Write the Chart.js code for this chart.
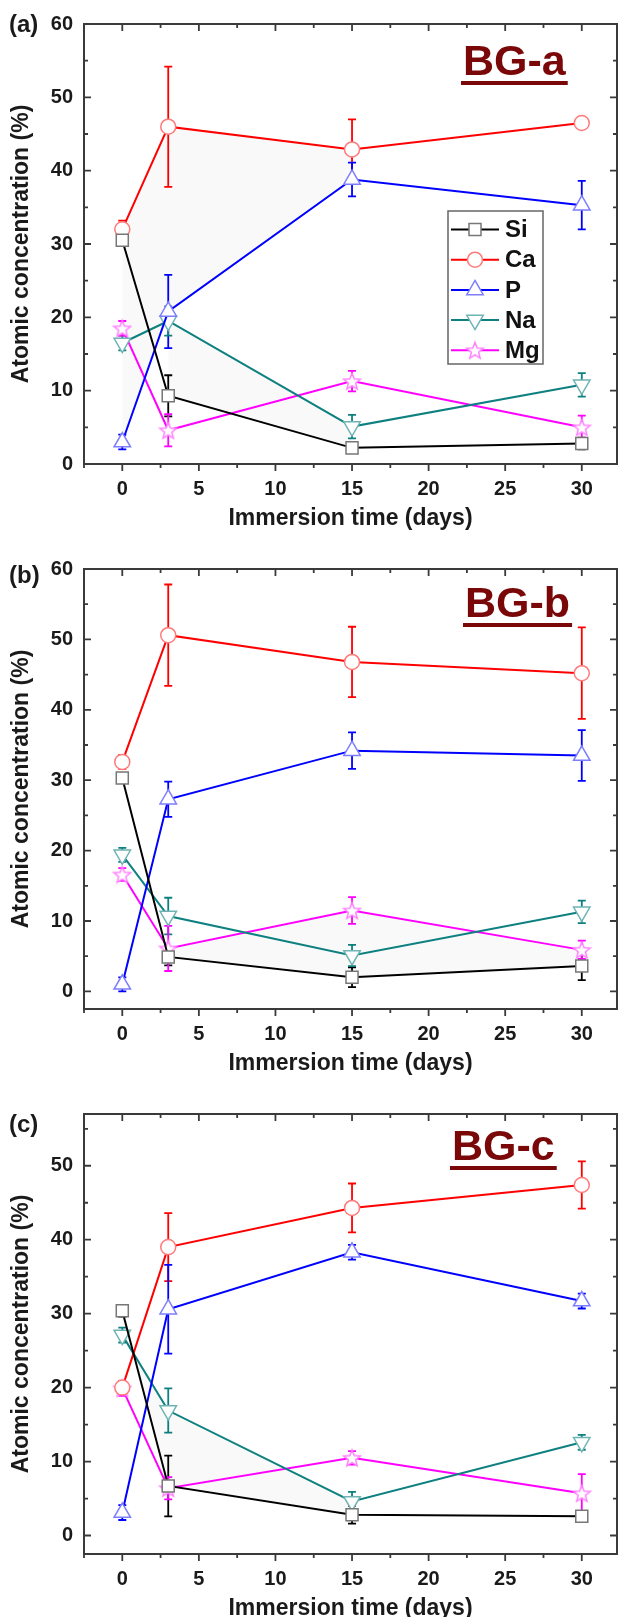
<!DOCTYPE html>
<html>
<head>
<meta charset="utf-8">
<title>Atomic concentration vs immersion time</title>
<script src="https://cdn.jsdelivr.net/npm/chart.js@4.4.1/dist/chart.umd.min.js"></script>
<style>
  html, body { margin: 0; padding: 0; background: #fff; overflow: hidden; }
  .panel { position: absolute; left: 0; width: 628px; height: 540px; }
</style>
</head>
<body>
<div class="panel" style="top:0px"><canvas id="chartA" width="628" height="540"></canvas></div>
<div class="panel" style="top:545px"><canvas id="chartB" width="628" height="540"></canvas></div>
<div class="panel" style="top:1090px"><canvas id="chartC" width="628" height="540"></canvas></div>
<script>
// immersion times and element names
const days = [0, 3, 15, 30];
const elements = ['Si', 'Ca', 'P', 'Na', 'Mg'];
const xTicks = [0, 5, 10, 15, 20, 25, 30];
const yTicks = [0, 10, 20, 30, 40, 50, 60];

// BG-a
const siA = [30.5, 9.3, 2.2, 2.8];
const siErrA = [0.7, 2.8, 0.5, 0.8];
const caA = [32.0, 46.0, 42.9, 46.5];
const caErrA = [1.2, 8.2, 4.1, 0.5];
const pA = [3.0, 20.8, 38.8, 35.3];
const pErrA = [1.0, 5.0, 2.3, 3.3];
const naA = [16.5, 19.5, 5.1, 10.8];
const naErrA = [1.0, 2.0, 1.6, 1.6];
const mgA = [18.5, 4.6, 11.3, 5.0];
const mgErrA = [1.0, 2.2, 1.4, 1.6];

// BG-b
const siB = [30.3, 4.9, 2.0, 3.6];
const siErrB = [0.7, 1.2, 1.4, 2.0];
const caB = [32.6, 50.6, 46.8, 45.2];
const caErrB = [1.0, 7.2, 5.0, 6.5];
const pB = [1.0, 27.3, 34.2, 33.5];
const pErrB = [1.0, 2.5, 2.6, 3.6];
const naB = [19.4, 10.7, 5.1, 11.3];
const naErrB = [1.0, 2.6, 1.5, 1.6];
const mgB = [16.6, 6.1, 11.5, 5.9];
const mgErrB = [0.9, 3.2, 1.9, 1.3];

// BG-c
const siC = [30.4, 6.7, 2.8, 2.6];
const siErrC = [0.8, 4.1, 1.2, 0.5];
const caC = [20.0, 39.0, 44.3, 47.4];
const caErrC = [0.7, 4.6, 3.3, 3.2];
const pC = [3.1, 30.6, 38.3, 31.7];
const pErrC = [1.0, 6.0, 1.0, 1.0];
const naC = [27.1, 16.9, 4.6, 12.6];
const naErrC = [1.0, 3.0, 1.3, 1.0];
const mgC = [19.9, 6.4, 10.5, 5.7];
const mgErrC = [1.0, 1.5, 0.9, 2.6];

const FONT = "'Liberation Sans', Arial, sans-serif";
Chart.defaults.font.family = FONT;

// line / marker look per element (same order as elements)
const seriesStyle = [
    { color: '#000000', marker: 'rect', edge: '#777777', radius: 8.5, rotation: 0 },
    { color: '#ff0000', marker: 'circle', edge: '#ff7a7a', radius: 7.5, rotation: 0 },
    { color: '#0000ff', marker: 'triangle', edge: '#7d7dff', radius: 9.5, rotation: 0 },
    { color: '#0f8080', marker: 'triangle', edge: '#6fb3b3', radius: 9.5, rotation: 180 },
    { color: '#ff00ff', marker: 'star', edge: '#ff80ff', radius: 9, rotation: 0 }
];

function starImage(stroke) {
    const c = document.createElement('canvas');
    c.width = 20;
    c.height = 20;
    const g = c.getContext('2d');
    g.beginPath();
    for (let k = 0; k < 10; k++) {
        const r = k % 2 ? 3.8 : 8.8;
        const a = -Math.PI / 2 + k * Math.PI / 5;
        const px = 10 + r * Math.cos(a);
        const py = 10.8 + r * Math.sin(a);
        if (k === 0) g.moveTo(px, py); else g.lineTo(px, py);
    }
    g.closePath();
    g.fillStyle = '#fff';
    g.fill();
    g.strokeStyle = stroke;
    g.lineWidth = 1.5;
    g.stroke();
    return c;
}
const starMarker = starImage(seriesStyle[4].edge);

function points(xs, ys) {
    return xs.map((d, i) => ({ x: d, y: ys[i] }));
}

function drawMarker(ctx, st, x, y) {
    ctx.save();
    ctx.fillStyle = '#fff';
    ctx.strokeStyle = st.edge;
    ctx.lineWidth = 1.5;
    ctx.beginPath();
    if (st.marker === 'rect') {
        const s = st.radius * Math.SQRT1_2;
        ctx.rect(x - s, y - s, 2 * s, 2 * s);
    } else if (st.marker === 'circle') {
        ctx.arc(x, y, st.radius, 0, Math.PI * 2);
    } else if (st.marker === 'triangle') {
        const r = st.radius;
        const sign = st.rotation === 180 ? -1 : 1;
        ctx.moveTo(x, y - sign * r);
        ctx.lineTo(x + r * 0.866, y + sign * r / 2);
        ctx.lineTo(x - r * 0.866, y + sign * r / 2);
        ctx.closePath();
    } else {
        ctx.restore();
        ctx.drawImage(starMarker, x - 10, y - 10);
        return;
    }
    ctx.fill();
    ctx.stroke();
    ctx.restore();
}

// error bars under the markers
const errorBarPlugin = {
    id: 'errorBars',
    beforeDatasetsDraw(chart) {
        const { ctx, scales: { x, y } } = chart;
        chart.data.datasets.forEach(ds => {
            if (!ds.errors) return;
            ctx.save();
            ctx.strokeStyle = ds.borderColor;
            ctx.lineWidth = 1.8;
            ctx.beginPath();
            ds.data.forEach((pt, k) => {
                const px = x.getPixelForValue(pt.x);
                const top = y.getPixelForValue(pt.y + ds.errors[k]);
                const bot = y.getPixelForValue(pt.y - ds.errors[k]);
                ctx.moveTo(px, top); ctx.lineTo(px, bot);
                ctx.moveTo(px - 4, top); ctx.lineTo(px + 4, top);
                ctx.moveTo(px - 4, bot); ctx.lineTo(px + 4, bot);
            });
            ctx.stroke();
            ctx.restore();
        });
    }
};

// box frame with ticks (inward on top/left/right, outward at bottom)
const framePlugin = {
    id: 'frame',
    afterDatasetsDraw(chart) {
        const { ctx, chartArea: a, scales: { x, y } } = chart;
        ctx.save();
        ctx.strokeStyle = '#3a3a3a';
        ctx.lineWidth = 2;
        ctx.strokeRect(a.left, a.top, a.right - a.left, a.bottom - a.top);
        ctx.lineWidth = 1.8;
        ctx.beginPath();
        for (let v = Math.ceil(x.min / 2.5) * 2.5; v <= x.max; v += 2.5) {
            const px = x.getPixelForValue(v);
            const len = v % 5 === 0 ? 7 : 4;
            ctx.moveTo(px, a.top); ctx.lineTo(px, a.top + len);
            ctx.moveTo(px, a.bottom); ctx.lineTo(px, a.bottom + len);
        }
        for (let v = Math.ceil(y.min / 5) * 5; v <= y.max; v += 5) {
            const py = y.getPixelForValue(v);
            const len = v % 10 === 0 ? 7 : 4;
            ctx.moveTo(a.left, py); ctx.lineTo(a.left + len, py);
            ctx.moveTo(a.right, py); ctx.lineTo(a.right - len, py);
        }
        ctx.stroke();
        ctx.restore();
    }
};

// panel letter, sample name and legend
const decorPlugin = {
    id: 'decor',
    afterDraw(chart, args, opts) {
        const ctx = chart.ctx;
        ctx.save();
        ctx.fillStyle = '#1a1a1a';
        ctx.font = 'bold 24px ' + FONT;
        ctx.textAlign = 'left';
        ctx.textBaseline = 'middle';
        ctx.fillText(opts.letter, 9, opts.letterY);

        ctx.fillStyle = '#7a0808';
        ctx.font = 'bold 43px ' + FONT;
        ctx.textBaseline = 'alphabetic';
        ctx.fillText(opts.tag, opts.tagX, opts.tagY);
        const w = ctx.measureText(opts.tag).width;
        ctx.fillRect(opts.tagX - 2, opts.tagY + 6, w + 4, 4);

        if (opts.legend) {
            const lx = 448, ly = 211, lw = 95, lh = 153;
            ctx.fillStyle = '#fff';
            ctx.fillRect(lx, ly, lw, lh);
            ctx.strokeStyle = '#666';
            ctx.lineWidth = 1.5;
            ctx.strokeRect(lx, ly, lw, lh);
            elements.forEach((name, i) => {
                const st = seriesStyle[i];
                const cy = ly + 18.5 + i * 30.2;
                ctx.strokeStyle = st.color;
                ctx.lineWidth = 2;
                ctx.beginPath();
                ctx.moveTo(lx + 3, cy);
                ctx.lineTo(lx + 51, cy);
                ctx.stroke();
                drawMarker(ctx, st, lx + 27, cy);
                ctx.fillStyle = '#111';
                ctx.font = 'bold 24px ' + FONT;
                ctx.textBaseline = 'middle';
                ctx.fillText(name, lx + 57, cy + 1);
            });
        }
        ctx.restore();
    }
};

function buildPanel(canvasId, spec) {
    const values = [spec.si, spec.ca, spec.p, spec.na, spec.mg];
    const errors = [spec.siErr, spec.caErr, spec.pErr, spec.naErr, spec.mgErr];
    const datasets = elements.map((name, i) => {
        const st = seriesStyle[i];
        return {
            label: name,
            data: points(days, values[i]),
            errors: errors[i],
            borderColor: st.color,
            borderWidth: 2,
            pointStyle: st.marker === 'star' ? starMarker : st.marker,
            pointRotation: st.rotation,
            pointRadius: st.radius,
            pointBackgroundColor: '#fff',
            pointBorderColor: st.edge,
            pointBorderWidth: 1.5,
            tension: 0,
            fill: false
        };
    });
    // shaded areas between two curves, drawn beneath everything
    spec.fills.forEach(f => {
        const xs = days.slice(f.from, f.to + 1);
        datasets.push({
            label: 'fill',
            data: points(xs, values[f.upper].slice(f.from, f.to + 1)),
            borderWidth: 0,
            borderColor: 'rgba(0,0,0,0)',
            pointRadius: 0,
            backgroundColor: 'rgba(0,0,0,0.022)',
            fill: '+1'
        });
        datasets.push({
            label: 'fillBase',
            data: points(xs, values[f.lower].slice(f.from, f.to + 1)),
            borderWidth: 0,
            borderColor: 'rgba(0,0,0,0)',
            backgroundColor: 'rgba(0,0,0,0)',
            pointRadius: 0,
            fill: false
        });
    });

    const tickFont = { family: FONT, size: 20, weight: 'bold' };
    const titleFont = { family: FONT, size: 23, weight: 'bold' };

    return new Chart(document.getElementById(canvasId), {
        type: 'line',
        data: { datasets },
        options: {
            responsive: false,
            animation: false,
            events: [],
            layout: { padding: { top: 24, left: 0, right: 0, bottom: 0 } },
            plugins: {
                legend: { display: false },
                tooltip: { enabled: false },
                decor: spec.decor
            },
            scales: {
                x: {
                    type: 'linear',
                    min: -2.5,
                    max: 32.3,
                    afterBuildTicks: s => { s.ticks = xTicks.map(v => ({ value: v })); },
                    afterFit: s => { s.height = 76; },
                    grid: { display: false, drawTicks: false },
                    border: { display: false },
                    ticks: { font: tickFont, color: '#1a1a1a', padding: 13, maxRotation: 0, autoSkip: false },
                    title: { display: true, text: 'Immersion time (days)', font: titleFont, color: '#1a1a1a', padding: { top: 0, bottom: 8 } }
                },
                y: {
                    type: 'linear',
                    min: spec.yMin,
                    max: spec.yMax,
                    afterBuildTicks: s => { s.ticks = yTicks.filter(v => v <= spec.yMax).map(v => ({ value: v })); },
                    afterFit: s => { s.width = 84; },
                    grid: { display: false, drawTicks: false },
                    border: { display: false },
                    ticks: { font: tickFont, color: '#1a1a1a', padding: 11, autoSkip: false },
                    title: { display: true, text: 'Atomic concentration (%)', font: titleFont, color: '#1a1a1a', padding: { top: 8, bottom: 0 } }
                }
            }
        },
        plugins: [errorBarPlugin, framePlugin, decorPlugin]
    });
}

buildPanel('chartA', {
    si: siA, siErr: siErrA, ca: caA, caErr: caErrA, p: pA, pErr: pErrA,
    na: naA, naErr: naErrA, mg: mgA, mgErr: mgErrA,
    yMin: 0, yMax: 60,
    fills: [{ upper: 1, lower: 2, from: 0, to: 2 }, { upper: 3, lower: 0, from: 1, to: 2 }],
    decor: { letter: '(a)', letterY: 25, tag: 'BG-a', tagX: 463, tagY: 75, legend: true }
});

buildPanel('chartB', {
    si: siB, siErr: siErrB, ca: caB, caErr: caErrB, p: pB, pErr: pErrB,
    na: naB, naErr: naErrB, mg: mgB, mgErr: mgErrB,
    yMin: -2.5, yMax: 60,
    fills: [{ upper: 4, lower: 0, from: 1, to: 3 }],
    decor: { letter: '(b)', letterY: 31, tag: 'BG-b', tagX: 465, tagY: 72, legend: false }
});

buildPanel('chartC', {
    si: siC, siErr: siErrC, ca: caC, caErr: caErrC, p: pC, pErr: pErrC,
    na: naC, naErr: naErrC, mg: mgC, mgErr: mgErrC,
    yMin: -2.5, yMax: 57,
    fills: [{ upper: 3, lower: 0, from: 0, to: 2 }],
    decor: { letter: '(c)', letterY: 35, tag: 'BG-c', tagX: 452, tagY: 70, legend: false }
});
</script>
</body>
</html>
